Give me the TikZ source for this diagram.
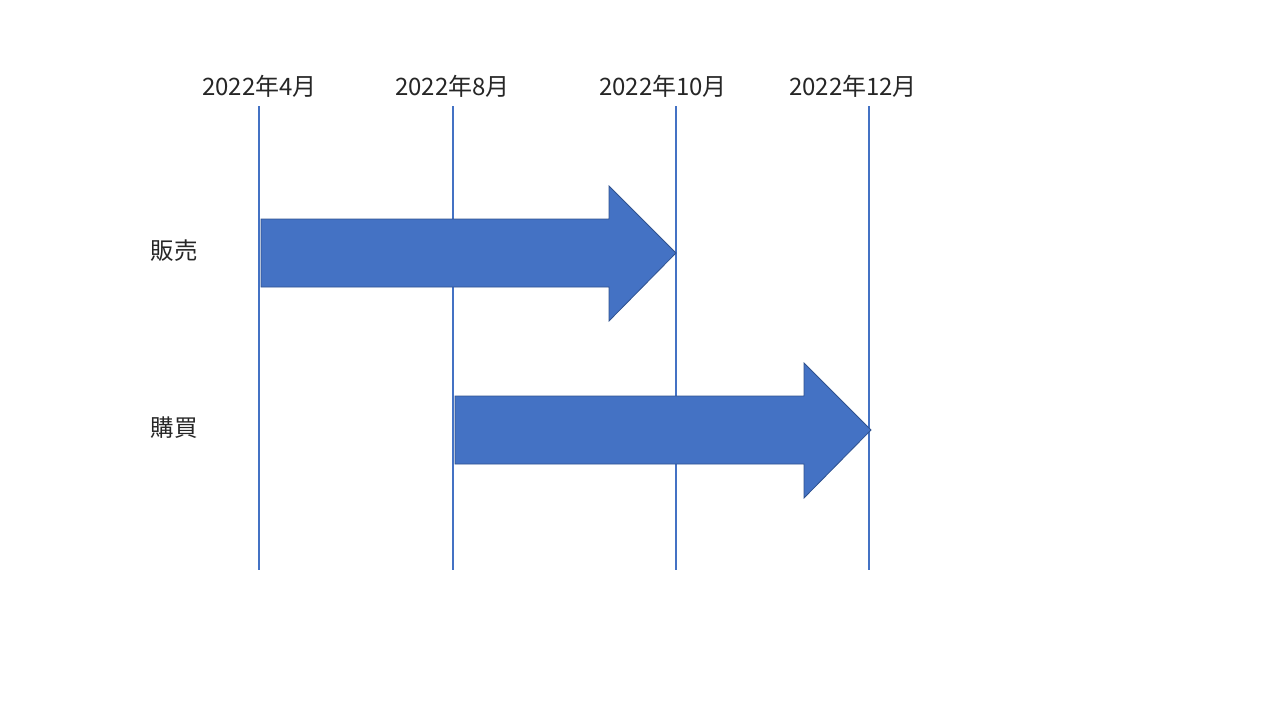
\documentclass[tikz,border=0pt]{standalone}
\usepackage{fontspec}
\newfontfamily\cjk{Noto Sans CJK JP}
\definecolor{accent}{HTML}{4472C4}
\definecolor{accentdark}{HTML}{2F528F}
\begin{document}
\begin{tikzpicture}[x=1pt,y=-1pt,
  tick/.style={draw=accent,line width=1.8pt},
  datelabel/.style={font=\cjk\fontsize{24}{28}\selectfont,text=black!85,inner sep=0pt},
  rowlabel/.style={font=\cjk\fontsize{23.5}{28}\selectfont,text=black!85,inner sep=0pt},
  bigarrow/.style={fill=accent,draw=accentdark,line width=0.8pt,line join=miter}]
\useasboundingbox (0,0) rectangle (1280,720);
% labels
\node[datelabel] (d1) at (259.5,86) {2022年4月};
\node[datelabel] (d2) at (452.5,86) {2022年8月};
\node[datelabel] (d3) at (663,86) {2022年10月};
\node[datelabel] (d4) at (853,86) {2022年12月};
% lines
\coordinate (t1) at (259,106); \coordinate (b1) at (259,570);
\coordinate (t2) at (453,106); \coordinate (b2) at (453,570);
\coordinate (t3) at (676,106); \coordinate (b3) at (676,570);
\coordinate (t4) at (869,106); \coordinate (b4) at (869,570);
\draw[tick] (t1) -- (b1);
\draw[tick] (t2) -- (b2);
\draw[tick] (t3) -- (b3);
\draw[tick] (t4) -- (b4);
% arrows
\path[bigarrow] (261,219) -- (609,219) -- (609,186) -- (676,253) -- (609,321) -- (609,287) -- (261,287) -- cycle;
\path[bigarrow] (455,396) -- (804,396) -- (804,363) -- (871,430) -- (804,498) -- (804,464) -- (455,464) -- cycle;
% row labels
\node[rowlabel] (r1) at (174,251) {販売};
\node[rowlabel] (r2) at (174,428) {購買};
\end{tikzpicture}
\end{document}
